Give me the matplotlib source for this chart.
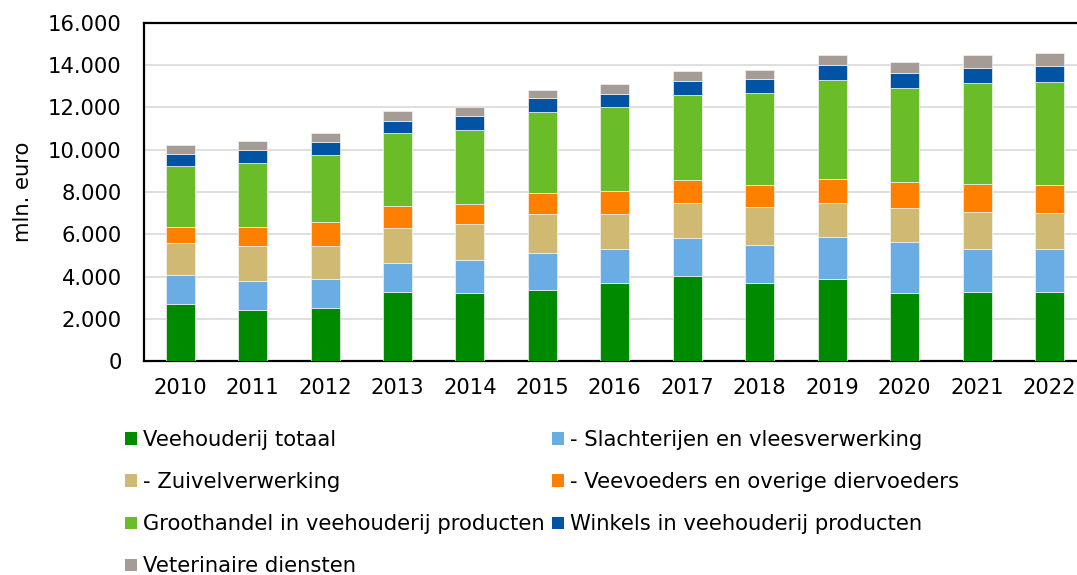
import numpy as np
import matplotlib
matplotlib.use("Agg")
import matplotlib.pyplot as plt
from matplotlib.patches import Patch
from matplotlib.ticker import FuncFormatter

years = ["2010", "2011", "2012", "2013", "2014", "2015", "2016",
         "2017", "2018", "2019", "2020", "2021", "2022"]

# mln. euro
veehouderij = [2700, 2420, 2530, 3270, 3220, 3380, 3700, 4010, 3700, 3900, 3220, 3270, 3270]
slachterijen = [1400, 1390, 1370, 1370, 1550, 1730, 1620, 1810, 1790, 1990, 2400, 2050, 2020]
zuivel = [1480, 1660, 1560, 1680, 1700, 1830, 1650, 1640, 1790, 1610, 1600, 1740, 1740]
veevoeders = [760, 870, 1110, 1010, 940, 1000, 1080, 1110, 1060, 1120, 1260, 1330, 1320]
groothandel = [2880, 3040, 3180, 3470, 3540, 3860, 3950, 4010, 4330, 4660, 4450, 4780, 4860]
winkels = [580, 590, 600, 570, 620, 620, 630, 670, 660, 700, 710, 670, 730]
veterinair = [440, 460, 420, 480, 430, 410, 460, 470, 450, 480, 480, 620, 610]

series = [
    ("Veehouderij totaal", veehouderij, "#008a00"),
    ("- Slachterijen en vleesverwerking", slachterijen, "#6aade4"),
    ("- Zuivelverwerking", zuivel, "#d0b972"),
    ("- Veevoeders en overige diervoeders", veevoeders, "#ff7f00"),
    ("Groothandel in veehouderij producten", groothandel, "#6abd29"),
    ("Winkels in veehouderij producten", winkels, "#0054a3"),
    ("Veterinaire diensten", veterinair, "#a59d95"),
]

plt.rcParams["font.family"] = ["DejaVu Sans"]
fs = 15.2

fig = plt.figure(figsize=(10.77, 5.75), dpi=100)
ax = fig.add_axes([0.1337, 0.3717, 0.8744, 0.5888])

x = np.arange(len(years))
bottom = np.zeros(len(years))
handles = {}
for name, vals, color in series:
    ax.bar(x, vals, width=0.40, bottom=bottom, color=color,
           edgecolor="#f2f2f2", linewidth=0.5, zorder=3)
    bottom += np.array(vals)
    handles[name] = Patch(facecolor=color, edgecolor="none")

ax.set_xlim(-0.5, len(years) - 0.5)
ax.set_ylim(0, 16000)
ax.set_yticks(np.arange(0, 16001, 2000))
ax.yaxis.set_major_formatter(FuncFormatter(lambda v, p: f"{int(v):,}".replace(",", ".")))
ax.set_xticks(x)
ax.set_xticklabels(years)
ax.tick_params(axis="both", length=0, labelsize=fs)
ax.tick_params(axis="y", pad=16)
ax.tick_params(axis="x", pad=12)
ax.set_ylabel("mln. euro", fontsize=fs, labelpad=11)

ax.grid(axis="y", color="#d9d9d9", linewidth=1.2, zorder=0)
for side in ["left", "bottom", "top"]:
    ax.spines[side].set_color("black")
    ax.spines[side].set_linewidth(1.6)
ax.spines["right"].set_visible(False)

# legend is filled row by row in the original
order = ["Veehouderij totaal", "- Zuivelverwerking",
         "Groothandel in veehouderij producten", "Veterinaire diensten",
         "- Slachterijen en vleesverwerking",
         "- Veevoeders en overige diervoeders",
         "Winkels in veehouderij producten"]
fig.legend([handles[n] for n in order], order, loc="upper left",
           bbox_to_anchor=(125 / 1077, 1 - 430 / 575), ncol=2, frameon=False,
           fontsize=fs, handlelength=0.55, handleheight=0.55, handletextpad=0.3,
           columnspacing=0.35, labelspacing=1.05, borderpad=0, borderaxespad=0)

fig.savefig("out.png", dpi=100)
